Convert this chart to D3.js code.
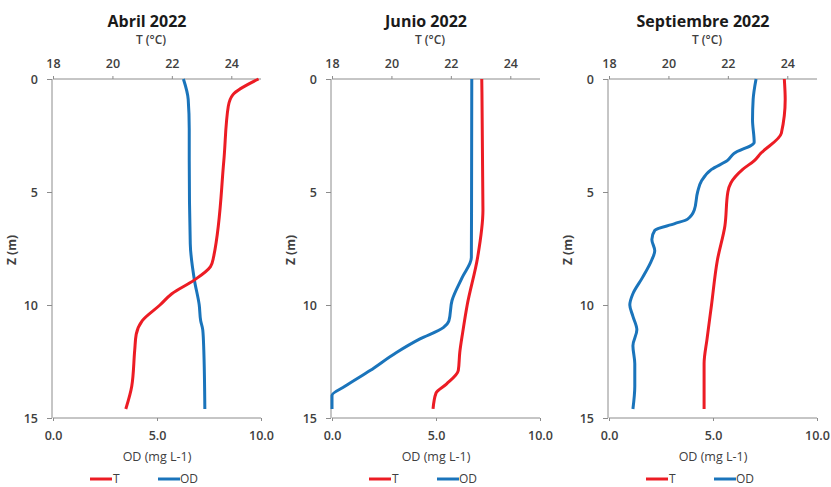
<!DOCTYPE html>
<html><head><meta charset="utf-8">
<script src="https://cdn.jsdelivr.net/npm/d3@7"></script>
<style>body{margin:0;background:#fff;}svg{display:block;}text{font-family:"Open Sans","Liberation Sans",sans-serif;}</style>
</head><body><svg id="c" width="831" height="487"></svg>
<script>
const panelTitles = ["Abril 2022", "Junio 2022", "Septiembre 2022"];
const tTicks = [18, 20, 22, 24];
const odTicks = [0, 5, 10];
const zTicks = [0, 5, 10, 15];

// Abril 2022
const abrilTDepth = [0, 0.7, 1.2, 3.6, 7.9, 8.3, 8.9, 9.5, 10.0, 10.7, 11.3, 12.0, 13.6, 14.6];
const abrilT      = [24.92, 24.05, 23.9, 23.75, 23.4, 23.3, 22.75, 22.0, 21.6, 21.0, 20.8, 20.75, 20.65, 20.45];
const abrilODDepth = [0, 0.9, 2.2, 3.6, 7.3, 8.9, 10.0, 10.7, 11.1, 12.0, 14.6];
const abrilOD      = [6.27, 6.5, 6.55, 6.55, 6.6, 6.8, 7.03, 7.1, 7.2, 7.25, 7.3];

// Junio 2022
const junioTDepth = [0, 5.8, 7.9, 10.0, 11.2, 12.1, 12.9, 13.5, 13.9, 14.6];
const junioT      = [23.04, 23.08, 22.9, 22.55, 22.4, 22.3, 22.25, 21.85, 21.5, 21.4];
const junioODDepth = [0, 7.9, 8.8, 9.8, 10.7, 11.0, 11.5, 12.1, 12.9, 13.6, 14.0, 14.6];
const junioOD      = [6.72, 6.7, 6.25, 5.77, 5.62, 5.35, 4.23, 3.1, 1.83, 0.62, 0.0, 0.0];

// Septiembre 2022
const septTDepth = [0, 0.9, 2.4, 3.3, 3.6, 4.0, 4.6, 5.0, 6.5, 8.0, 10.0, 11.5, 12.6, 14.6];
const septT      = [23.9, 23.93, 23.8, 23.1, 22.9, 22.5, 22.1, 22.0, 21.9, 21.65, 21.45, 21.3, 21.2, 21.2];
const septODDepth = [0, 0.9, 1.8, 2.8, 3.3, 3.6, 4.0, 4.5, 5.0, 5.8, 6.2, 6.4, 6.7, 7.1, 7.6, 8.0, 8.8, 9.5, 10.0, 10.5, 11.1, 11.8, 12.6, 13.6, 14.6];
const septOD      = [7.07, 6.93, 6.9, 6.98, 6.0, 5.7, 4.93, 4.45, 4.26, 4.1, 3.78, 3.16, 2.2, 2.06, 2.2, 2.06, 1.6, 1.15, 1.0, 1.15, 1.34, 1.15, 1.24, 1.24, 1.15];

const tSeries = [[abrilTDepth, abrilT], [junioTDepth, junioT], [septTDepth, septT]];
const odSeries = [[abrilODDepth, abrilOD], [junioODDepth, junioOD], [septODDepth, septOD]];

const RED = "#ec1c24", BLUE = "#1a74bb", AX = "#8c8c8c", TXT = "#404040";
const svg = d3.select("#c");
const plotLeft = [53, 332, 609];
const plotW = 208;
const yTop = 79, yBot = 418;

panelTitles.forEach((title, i) => {
  const x0 = plotLeft[i];
  const g = svg.append("g");
  const xT = d3.scaleLinear().domain([18, 25]).range([x0, x0 + plotW]);
  const xOD = d3.scaleLinear().domain([0, 10]).range([x0, x0 + plotW]);
  const y = d3.scaleLinear().domain([0, 15]).range([yTop, yBot]);

  const top = g.append("g").attr("transform", `translate(0,${yTop})`)
    .call(d3.axisTop(xT).tickValues(tTicks).tickSize(3).tickPadding(8).tickFormat(d3.format("d")));
  top.select(".domain").attr("d", `M${x0},0H${x0 + plotW}`);
  const bot = g.append("g").attr("transform", `translate(0,${yBot})`)
    .call(d3.axisBottom(xOD).tickValues(odTicks).tickSize(3).tickPadding(10).tickFormat(d3.format(".1f")));
  bot.select(".domain").attr("d", `M${x0},0H${x0 + plotW}`);
  const left = g.append("g").attr("transform", `translate(${x0 - 1},0)`)
    .call(d3.axisLeft(y).tickValues(zTicks).tickSize(5).tickPadding(9));
  left.select(".domain").attr("d", `M0,${yTop}V${yBot}`);
  [top, bot, left].forEach(a => {
    a.selectAll("path,line").attr("stroke", AX);
    a.selectAll("text").attr("fill", TXT).attr("font-size", 12.5).attr("font-weight", 600);
  });

  g.append("text").attr("x", x0 + 94).attr("y", 27).attr("text-anchor", "middle")
    .attr("font-size", 16).attr("font-weight", 700).attr("fill", "#1a1a1a").text(title);
  g.append("text").attr("x", x0 + 98).attr("y", 44).attr("text-anchor", "middle")
    .attr("font-size", 12).attr("font-weight", 600).attr("fill", TXT).text("T (°C)");
  g.append("text").attr("x", x0 + 104).attr("y", 461).attr("text-anchor", "middle")
    .attr("font-size", 12.5).attr("fill", TXT).text("OD (mg L-1)");
  g.append("text").attr("transform", `translate(${x0 - 37},250) rotate(-90)`).attr("text-anchor", "middle")
    .attr("font-size", 12).attr("font-weight", 700).attr("fill", TXT).text("Z (m)");

  const [td, tv] = tSeries[i];
  const [od, ov] = odSeries[i];
  const lineT = d3.line().x(d => xT(d[1])).y(d => y(d[0])).curve(d3.curveMonotoneY);
  const lineOD = d3.line().x(d => xOD(d[1])).y(d => y(d[0])).curve(d3.curveMonotoneY);
  g.append("path").datum(od.map((d, k) => [d, ov[k]])).attr("d", lineOD)
    .attr("fill", "none").attr("stroke", BLUE).attr("stroke-width", 3);
  g.append("path").datum(td.map((d, k) => [d, tv[k]])).attr("d", lineT)
    .attr("fill", "none").attr("stroke", RED).attr("stroke-width", 3);

  const lx = x0 + 37;
  const leg = g.append("g").attr("transform", `translate(${lx},479)`);
  leg.append("line").attr("x1", 0).attr("x2", 22).attr("stroke", RED).attr("stroke-width", 3);
  leg.append("text").attr("x", 23).attr("y", 4).attr("font-size", 12).attr("fill", TXT).text("T");
  leg.append("line").attr("x1", 68).attr("x2", 90).attr("stroke", BLUE).attr("stroke-width", 3);
  leg.append("text").attr("x", 90).attr("y", 4).attr("font-size", 12).attr("fill", TXT).text("OD");
});
</script></body></html>
